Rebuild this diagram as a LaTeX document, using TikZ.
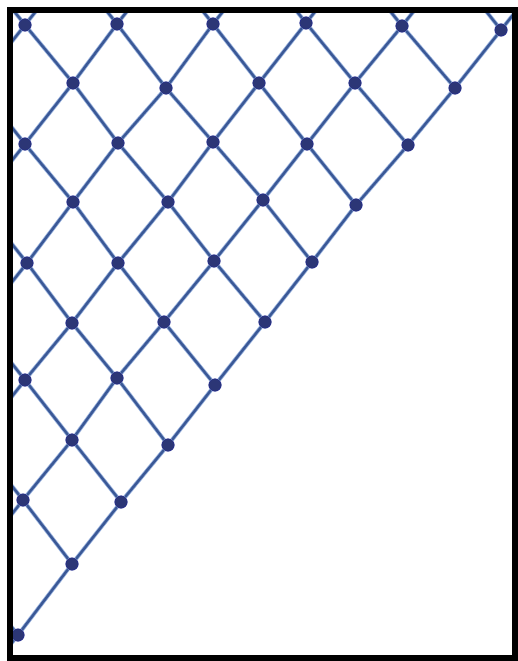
\documentclass[tikz,border=0pt]{standalone}
\usetikzlibrary{calc}
\definecolor{dotblue}{RGB}{44,54,118}
\definecolor{lineblue}{RGB}{58,88,150}
\definecolor{haloblue}{RGB}{150,175,220}
\tikzset{
  dot/.style={circle,fill=dotblue,draw=dotblue!80!blue,line width=0.6pt,inner sep=0pt,minimum size=12.5pt},
  ln/.style={draw=lineblue,line width=2.4pt,preaction={draw=haloblue,line width=4pt}},
  frame/.style={draw=black,line width=5.5pt}
}
\begin{document}
\begin{tikzpicture}[x=1pt,y=-1pt]
\useasboundingbox (0,0) rectangle (518,661);
\begin{scope}
\clip (10,10) rectangle (515,658);
% lattice points
\foreach \c/\r/\x/\y in {0/0/25/25, 2/0/117/24, 4/0/213/24, 6/0/306/23, 8/0/402/26, 10/0/501/30,
  1/1/73/83, 3/1/166/88, 5/1/259/83, 7/1/355/83, 9/1/455/88,
  0/2/25/144, 2/2/118/143, 4/2/213/142, 6/2/307/144, 8/2/408/145,
  1/3/73/202, 3/3/168/202, 5/3/263/200, 7/3/356/205,
  0/4/27/263, 2/4/118/263, 4/4/214/261, 6/4/312/262,
  1/5/72/323, 3/5/164/322, 5/5/265/322,
  0/6/25/380, 2/6/117/378, 4/6/215/385,
  1/7/72/440, 3/7/168/445,
  0/8/23/500, 2/8/121/502,
  1/9/72/564,
  0/10/18/635}
  \node[dot] (n\c-\r) at (\x,\y) {};
% stub end points beyond the frame
\foreach \c in {0,2,4,6,8,10} {
  \coordinate (ul\c) at ($(n\c-0)+(-47.5,-60)$);
  \coordinate (ur\c) at ($(n\c-0)+(47.5,-60)$);
}
\foreach \r in {2,4,6,8,10} {
  \coordinate (lu\r) at ($(n0-\r)+(-47.5,-60)$);
}
\foreach \r in {0,2,4,6,8,10} {
  \coordinate (ld\r) at ($(n0-\r)+(-47.5,60)$);
}
% down-right edges
\foreach \a/\b in {0-0/1-1, 2-0/3-1, 4-0/5-1, 6-0/7-1, 8-0/9-1,
  1-1/2-2, 3-1/4-2, 5-1/6-2, 7-1/8-2,
  0-2/1-3, 2-2/3-3, 4-2/5-3, 6-2/7-3,
  1-3/2-4, 3-3/4-4, 5-3/6-4,
  0-4/1-5, 2-4/3-5, 4-4/5-5,
  1-5/2-6, 3-5/4-6,
  0-6/1-7, 2-6/3-7,
  1-7/2-8,
  0-8/1-9}
  \path[ln] (n\a) -- (n\b);
% up-right edges
\foreach \a/\b in {1-1/2-0, 3-1/4-0, 5-1/6-0, 7-1/8-0, 9-1/10-0,
  0-2/1-1, 2-2/3-1, 4-2/5-1, 6-2/7-1, 8-2/9-1,
  1-3/2-2, 3-3/4-2, 5-3/6-2, 7-3/8-2,
  0-4/1-3, 2-4/3-3, 4-4/5-3, 6-4/7-3,
  1-5/2-4, 3-5/4-4, 5-5/6-4,
  0-6/1-5, 2-6/3-5, 4-6/5-5,
  1-7/2-6, 3-7/4-6,
  0-8/1-7, 2-8/3-7,
  1-9/2-8,
  0-10/1-9}
  \path[ln] (n\a) -- (n\b);
% stubs leaving the frame
\foreach \c in {0,2,4,6,8,10} {
  \path[ln] (n\c-0) -- (ul\c);
  \path[ln] (n\c-0) -- (ur\c);
}
\foreach \r in {2,4,6,8,10} \path[ln] (n0-\r) -- (lu\r);
\foreach \r in {0,2,4,6,8,10} \path[ln] (n0-\r) -- (ld\r);
\end{scope}
\path[frame] (10,10) rectangle (515,658);
\end{tikzpicture}
\end{document}
